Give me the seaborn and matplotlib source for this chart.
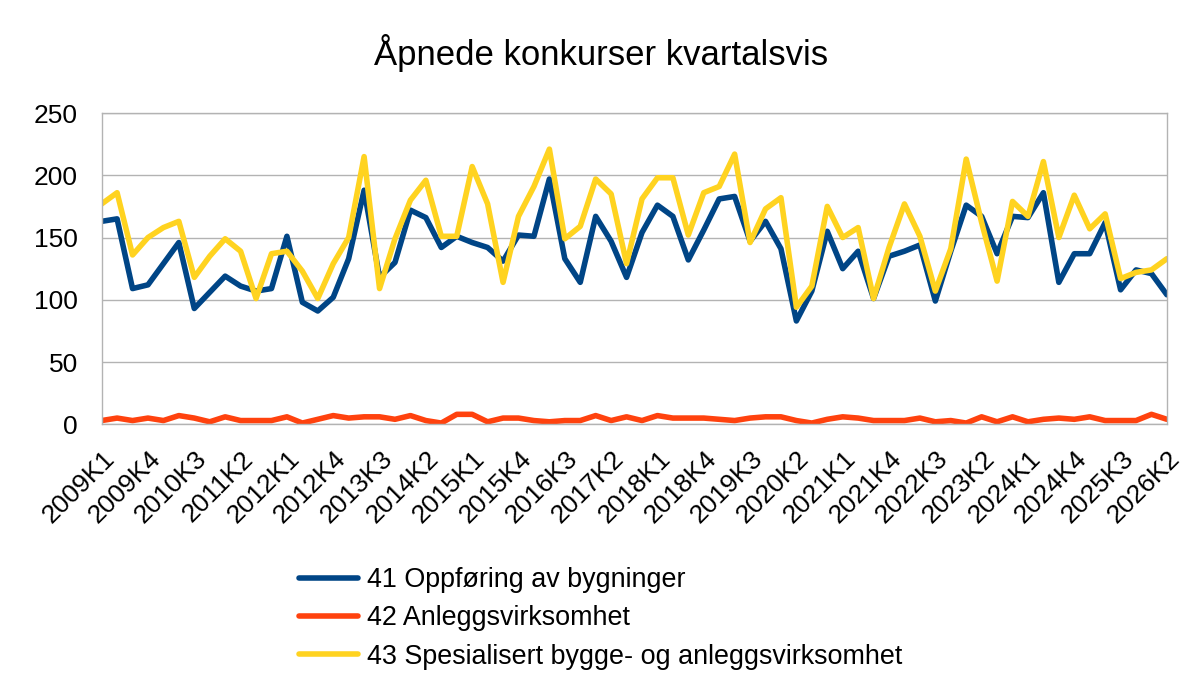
import pandas as pd
import matplotlib
matplotlib.use("Agg")
import matplotlib.pyplot as plt
import matplotlib.transforms as mtransforms
import seaborn as sns

# Kvartaler 2009K1 - 2026K2
kvartaler = [f"{aar}K{k}" for aar in range(2009, 2027) for k in range(1, 5)][:70]

oppforing = [163, 165, 109, 112, 129, 146, 93, 106, 119, 111, 107, 109, 151, 98, 91, 102, 133, 188,
             118, 130, 172, 166, 142, 151, 146, 142, 131, 152, 151, 197, 133, 114, 167, 147, 118,
             154, 176, 167, 132, 156, 181, 183, 147, 163, 141, 83, 107, 155, 125, 139, 101,
             135, 139, 144, 99, 139, 176, 167, 137, 167, 166, 186, 114, 137, 137, 162, 108, 124, 121, 104]

anlegg = [3, 5, 3, 5, 3, 7, 5, 2, 6, 3, 3, 3, 6, 1, 4, 7, 5, 6, 6, 4, 7, 3, 1, 8, 8, 2, 5, 5, 3, 2,
          3, 3, 7, 3, 6, 3, 7, 5, 5, 5, 4, 3, 5, 6, 6, 3, 1, 4, 6, 5, 3, 3, 3, 5, 2, 3, 1, 6, 2, 6,
          2, 4, 5, 4, 6, 3, 3, 3, 8, 4]

spesialisert = [177, 186, 136, 150, 158, 163, 118, 135, 149, 139, 101, 137, 139, 123, 101, 129, 150, 215,
                109, 149, 180, 196, 151, 151, 207, 177, 114, 167, 191, 221, 149, 159, 197, 185, 129,
                181, 198, 198, 152, 186, 191, 217, 146, 173, 182, 94, 111, 175, 150, 158, 101,
                142, 177, 151, 107, 141, 213, 162, 115, 179, 167, 211, 150, 184, 157, 169, 117, 122, 124, 133]

serier = ["41 Oppføring av bygninger", "42 Anleggsvirksomhet", "43 Spesialisert bygge- og anleggsvirksomhet"]
farger = ["#004586", "#ff420e", "#ffd320"]

df = pd.DataFrame({
    "idx": list(range(len(kvartaler))) * 3,
    "verdi": oppforing + anlegg + spesialisert,
    "serie": [serier[0]] * 70 + [serier[1]] * 70 + [serier[2]] * 70,
})

sns.set_style("white")
plt.rcParams['font.family'] = ['Liberation Sans', 'DejaVu Sans']
plt.rcParams['text.color'] = 'black'

fig = plt.figure(figsize=(12.03, 6.78), dpi=100)
ax = fig.add_axes([0.0845, 0.3742, 0.970 - 0.0845, 0.8333 - 0.3742])

sns.lineplot(data=df, x="idx", y="verdi", hue="serie", palette=farger, linewidth=4.0, ax=ax, legend=False)

grå = "#b3b3b3"
ax.set_xlim(0, 69)
ax.set_ylim(0, 250)
ax.set_yticks([0, 50, 100, 150, 200, 250])
ax.yaxis.grid(True, color=grå, linewidth=1)
ax.set_axisbelow(True)
for s in ax.spines.values():
    s.set_color(grå)
    s.set_linewidth(1)

ax.set_xticks(range(0, 70, 3))
ax.set_xticklabels(kvartaler[::3])
ax.set_xticks(range(70), minor=True)
ax.tick_params(axis="x", which="both", length=10, color=grå, direction="out", labelsize=19, pad=12)
ax.tick_params(axis="y", length=10, color=grå, direction="out", labelsize=19, pad=7)
ax.tick_params(axis="both", labelcolor="black")
ax.set_xlabel("")
ax.set_ylabel("")

offset = mtransforms.ScaledTranslation(9 / 100, 0, fig.dpi_scale_trans)
for lab in ax.get_xticklabels():
    lab.set_rotation(45)
    lab.set_ha("right")
    lab.set_va("center")
    lab.set_rotation_mode("anchor")
    lab.set_transform(lab.get_transform() + offset)

fig.text(0.5, 1 - 53 / 678, "Åpnede konkurser kvartalsvis", ha="center", va="center",
         fontsize=25, color="black")

handles = [plt.Line2D([], [], color=c, linewidth=4.0) for c in farger]
fig.legend(handles, serier, loc="upper left", bbox_to_anchor=(299 / 1203, 1 - 567 / 678),
           frameon=False, fontsize=19.4, handlelength=2.2, handletextpad=0.33,
           labelspacing=0.46, borderpad=0, borderaxespad=0, labelcolor="black")

fig.savefig("out.png", dpi=100)
